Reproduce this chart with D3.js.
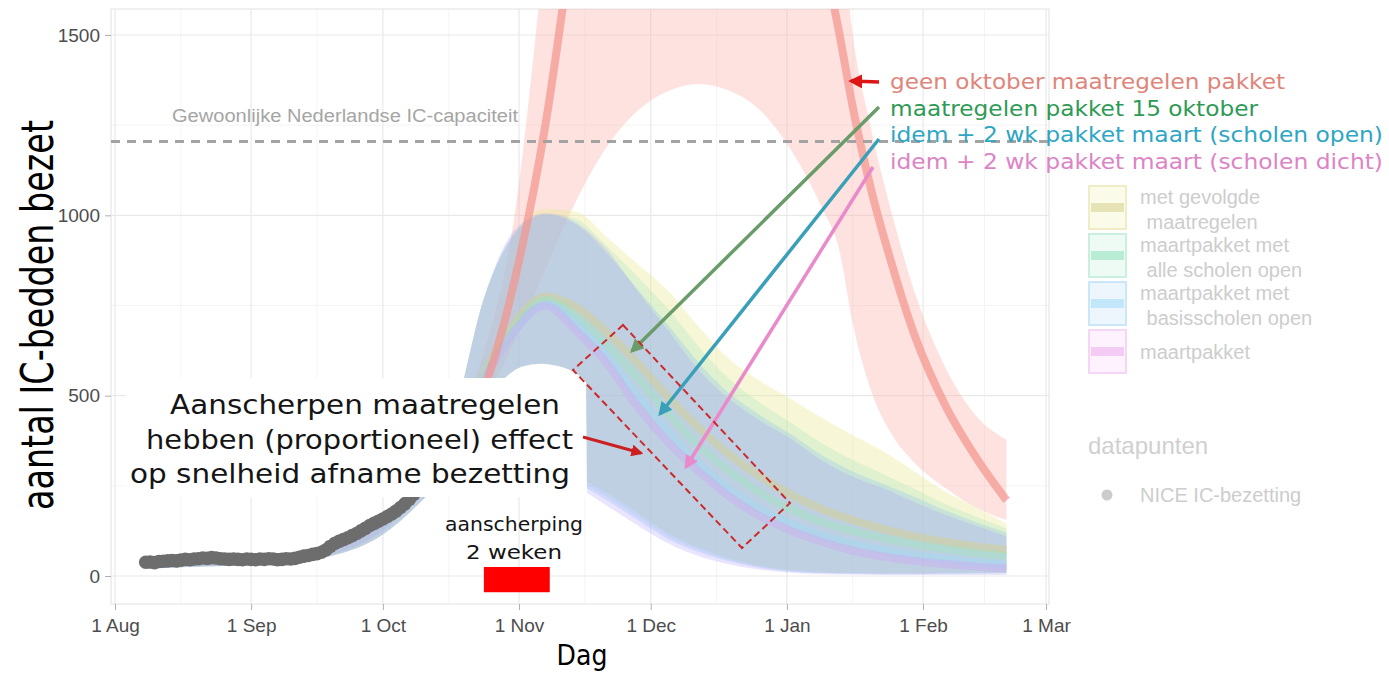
<!DOCTYPE html>
<html><head><meta charset="utf-8">
<script src="https://cdn.jsdelivr.net/npm/d3@7"></script>
<style>html,body{margin:0;padding:0;background:#fff;} svg{display:block}</style>
</head><body><svg id="c" width="1389" height="673"></svg>
<script>
// ---------------- DATA ----------------
const xTickDates = ["2020-08-01","2020-09-01","2020-10-01","2020-11-01","2020-12-01","2021-01-01","2021-02-01","2021-03-01"];
const xTickLabels = ["1 Aug","1 Sep","1 Oct","1 Nov","1 Dec","1 Jan","1 Feb","1 Mar"];
const xMinorDates = ["2020-08-16","2020-09-16","2020-10-16","2020-11-16","2020-12-16","2021-01-16","2021-02-15"];
const yTicks = [0, 500, 1000, 1500];
const yMinor = [250, 750, 1250];

// NICE observed IC occupancy, daily from 8 Aug 2020
const obsStart = "2020-08-08";
const obsValues = [38,39,37,40,41,42,43,42,44,46,45,47,48,50,49,51,50,48,47,46,47,46,45,47,
  46,45,47,46,48,47,45,46,48,47,49,52,55,57,60,62,66,72,82,90,96,101,106,112,118,125,132,140,146,152,
  158,165,172,180,190,200,212,226,240,255,270,285,300,318,336,355,375,395,415,438];

// scenario model dates
const modelDates = ["2020-08-08","2020-08-22","2020-09-05","2020-09-19","2020-10-01","2020-10-10","2020-10-17","2020-10-24","2020-10-31","2020-11-07","2020-11-14","2020-11-21","2020-11-28","2020-12-05","2020-12-12","2020-12-19","2020-12-26","2021-01-02","2021-01-09","2021-01-16","2021-01-23","2021-01-30","2021-02-06","2021-02-13","2021-02-20"];

// A: met gevolgde maatregelen (yellow)
const aMed = [32,38,44,70,140,250,370,560,700,775,745,675,590,495,410,335,275,225,185,155,130,110,95,82,72];
const aHi  = [40,46,53,85,165,290,440,770,950,1018,1010,940,865,790,690,600,540,490,438,390,345,290,235,190,145];
const aLo  = [25,30,35,55,115,210,300,360,370,340,280,230,175,118,78,48,28,16,10,8,7,7,8,9,10];
// B: maartpakket met alle scholen open (green)
const bMed = [32,38,44,70,140,250,370,555,690,765,720,640,550,450,360,290,230,185,150,125,105,88,75,64,55];
const bHi  = [40,46,53,85,165,290,440,770,950,1005,990,915,830,740,635,545,480,425,368,322,282,242,200,165,132];
const bLo  = [25,30,35,55,115,210,300,355,360,330,270,220,165,110,72,44,25,14,9,7,6,6,7,8,9];
// C: maartpakket met basisscholen open (blue)
const cMed = [32,38,44,70,140,250,370,550,680,755,700,610,500,400,310,240,185,145,112,90,72,58,47,38,31];
const cHi  = [40,46,53,85,165,290,440,770,950,1002,975,895,795,695,590,505,445,392,335,290,255,220,182,150,120];
const cLo  = [25,30,35,55,115,210,300,350,355,320,262,210,155,102,66,40,22,12,8,6,5,5,6,7,8];
// D: maartpakket (purple)
const dMed = [32,38,44,70,140,250,370,545,680,750,680,590,470,370,290,220,165,125,95,70,54,42,33,26,21];
const dHi  = [40,46,53,85,165,290,440,770,960,1005,980,905,790,680,570,490,430,380,320,275,243,205,170,140,110];
const dLo  = [25,30,35,55,115,210,300,345,350,310,250,195,140,90,55,32,17,9,5,4,3,3,3,3,3];

// E: geen oktober maatregelen pakket (red)
const redDates = ["2020-10-10","2020-10-17","2020-10-24","2020-10-31","2020-11-07","2020-11-14","2020-11-21","2020-11-28","2020-12-05","2020-12-12","2020-12-19","2020-12-26","2021-01-02","2021-01-09","2021-01-13","2021-01-16","2021-01-20","2021-01-25","2021-01-30","2021-02-06","2021-02-13","2021-02-20"];
const eMed = [250,390,520,820,1250,1850,2500,3000,3300,3400,3300,2900,2300,1750,1500,1300,1080,860,670,475,330,210];
const eHi  = [290,430,620,1000,1750,2500,3200,3800,4200,4400,4300,3900,3300,2600,1850,1500,1250,1000,790,580,445,378];
const eLo  = [210,330,480,650,850,1040,1190,1290,1345,1364,1345,1290,1180,1020,900,700,520,390,315,245,190,155];

const capacity = 1205;
const tighteningPeriod = ["2020-10-24", "2020-11-08"];
const tighteningRange = [-45, 25];

const legendLabels = [["met gevolgde"," maatregelen"],["maartpakket met"," alle scholen open"],["maartpakket met"," basisscholen open"],["maartpakket"]];
const annotationTexts = ["geen oktober maatregelen pakket","maatregelen pakket 15 oktober","idem + 2 wk pakket maart (scholen open)","idem + 2 wk pakket maart (scholen dicht)"];

// ---------------- CHART ----------------
const parse = d3.utcParse("%Y-%m-%d");
const svg = d3.select("#c");
const P = {l:111, r:1049, t:9, b:604};
const x = d3.scaleUtc().domain([parse("2020-08-01"), parse("2021-03-01")]).range([115, 1046]);
const y = d3.scaleLinear().domain([0, 1500]).range([576, 35]);

svg.append("defs").append("clipPath").attr("id","panel")
  .append("rect").attr("x",P.l).attr("y",P.t).attr("width",P.r-P.l).attr("height",P.b-P.t);

// grid
const grid = svg.append("g");
grid.selectAll(".ym").data(yMinor).join("line").attr("x1",P.l).attr("x2",P.r)
  .attr("y1",d=>y(d)).attr("y2",d=>y(d)).attr("stroke","#f4f4f4").attr("stroke-width",1);
grid.selectAll(".xm").data(xMinorDates).join("line").attr("y1",P.t).attr("y2",P.b)
  .attr("x1",d=>x(parse(d))).attr("x2",d=>x(parse(d))).attr("stroke","#f4f4f4").attr("stroke-width",1);
grid.selectAll(".yM").data(yTicks).join("line").attr("x1",P.l).attr("x2",P.r)
  .attr("y1",d=>y(d)).attr("y2",d=>y(d)).attr("stroke","#e9e9e9").attr("stroke-width",1.2);
grid.selectAll(".xM").data(xTickDates).join("line").attr("y1",P.t).attr("y2",P.b)
  .attr("x1",d=>x(parse(d))).attr("x2",d=>x(parse(d))).attr("stroke","#e9e9e9").attr("stroke-width",1.2);
svg.append("rect").attr("x",P.l).attr("y",P.t).attr("width",P.r-P.l).attr("height",P.b-P.t)
  .attr("fill","none").attr("stroke","#e2e2e2").attr("stroke-width",1);

const plot = svg.append("g").attr("clip-path","url(#panel)");
const curve = d3.curveMonotoneX;

function bandData(dates, lo, hi){ return dates.map((d,i)=>({d:parse(d), lo:lo[i], hi:hi[i]})); }
function lineData(dates, v){ return dates.map((d,i)=>({d:parse(d), v:v[i]})); }
const area = d3.area().curve(curve).x(p=>x(p.d)).y0(p=>y(p.lo)).y1(p=>y(p.hi));
const line = d3.line().curve(curve).x(p=>x(p.d)).y(p=>y(p.v));

const scen = [
  {med:aMed, lo:aLo, hi:aHi, fill:"#ecec9c", fo:0.4, stroke:"#cfcf94", so:0.55},
  {med:bMed, lo:bLo, hi:bHi, fill:"#86dcae", fo:0.2, stroke:"#9fe2c0", so:0.5},
  {med:cMed, lo:cLo, hi:cHi, fill:"#80b8f4", fo:0.26, stroke:"#a0d8f2", so:0.5},
  {med:dMed, lo:dLo, hi:dHi, fill:"#b0a0ff", fo:0.28, stroke:"#c8b0f0", so:0.5}
];
// red band
plot.append("path").datum(bandData(redDates, eLo, eHi)).attr("d", area)
  .attr("fill","#f9b2aa").attr("fill-opacity",0.38);
scen.forEach(s=>{
  plot.append("path").datum(bandData(modelDates, s.lo, s.hi)).attr("d", area)
    .attr("fill", s.fill).attr("fill-opacity", s.fo);
});
scen.forEach(s=>{
  plot.append("path").datum(lineData(modelDates, s.med)).attr("d", line)
    .attr("fill","none").attr("stroke", s.stroke).attr("stroke-opacity", s.so).attr("stroke-width",8);
});
plot.append("path").datum(lineData(redDates, eMed)).attr("d", line)
  .attr("fill","none").attr("stroke","#f4948b").attr("stroke-opacity",0.7).attr("stroke-width",8);

// observed points
const obs = obsValues.map((v,i)=>({d:d3.utcDay.offset(parse(obsStart), i), v}));
plot.selectAll(".obs").data(obs).join("circle").attr("cx",p=>x(p.d)).attr("cy",p=>y(p.v))
  .attr("r",6.8).attr("fill","#6d6d6d");

// capacity line
plot.append("line").attr("x1",P.l).attr("x2",P.r).attr("y1",y(capacity)).attr("y2",y(capacity))
  .attr("stroke","#a3a3a3").attr("stroke-width",3).attr("stroke-dasharray","9,7");
svg.append("text").attr("x",172).attr("y",y(capacity)-19).text("Gewoonlijke Nederlandse IC-capaciteit")
  .attr("font-family","Liberation Sans, Arial, sans-serif").attr("font-size",18).attr("fill","#a5a5a5")
  .attr("textLength",346).attr("lengthAdjust","spacingAndGlyphs");

// tightening rect
svg.append("rect").attr("x",x(parse(tighteningPeriod[0]))).attr("width",x(parse(tighteningPeriod[1]))-x(parse(tighteningPeriod[0])))
  .attr("y",y(tighteningRange[1])).attr("height",y(tighteningRange[0])-y(tighteningRange[1])).attr("fill","#ff0000");

// axes
const xa = svg.append("g").attr("transform",`translate(0,${P.b})`)
  .call(d3.axisBottom(x).tickValues(xTickDates.map(parse)).tickFormat((d,i)=>xTickLabels[i]).tickSize(6).tickSizeOuter(0).tickPadding(9));
xa.select(".domain").remove();
xa.selectAll("line").attr("stroke","#b0b0b0");
xa.selectAll("text").attr("font-family","Liberation Sans, Arial, sans-serif").attr("font-size",19).attr("fill","#4d4d4d");
const ya = svg.append("g").attr("transform",`translate(${P.l},0)`)
  .call(d3.axisLeft(y).tickValues(yTicks).tickFormat(d3.format("d")).tickSize(6).tickSizeOuter(0).tickPadding(5));
ya.select(".domain").remove();
ya.selectAll("line").attr("stroke","#b0b0b0");
ya.selectAll("text").attr("font-family","Liberation Sans, Arial, sans-serif").attr("font-size",19).attr("fill","#4d4d4d");

svg.append("text").attr("transform","translate(53,315) rotate(-90)").attr("text-anchor","middle")
  .text("aantal IC-bedden bezet").attr("font-family","Liberation Sans Narrow, DejaVu Sans Condensed, sans-serif")
  .attr("font-size",44).attr("fill","#000").attr("textLength",390).attr("lengthAdjust","spacingAndGlyphs");
svg.append("text").attr("x",582).attr("y",665).attr("text-anchor","middle").text("Dag")
  .attr("font-family","Liberation Sans Narrow, DejaVu Sans Condensed, sans-serif").attr("font-size",28).attr("fill","#000");

// legend
const lg = svg.append("g");
const keyStyle = [
  {bg:"#fbfbea", border:"#efecc6", line:"#e6e3b6"},
  {bg:"#eefaf4", border:"#c9f0df", line:"#b9ecd5"},
  {bg:"#eef6fd", border:"#c9e7f8", line:"#c2e6fa"},
  {bg:"#fdf2fd", border:"#f5d6f5", line:"#f4cbf4"}
];
legendLabels.forEach((lab,i)=>{
  const ky = 186 + i*48;
  lg.append("rect").attr("x",1089).attr("y",ky).attr("width",37).attr("height",43)
    .attr("fill",keyStyle[i].bg).attr("stroke",keyStyle[i].border).attr("stroke-width",2);
  lg.append("line").attr("x1",1091).attr("x2",1124).attr("y1",ky+21.5).attr("y2",ky+21.5)
    .attr("stroke",keyStyle[i].line).attr("stroke-width",9);
  const base = lab.length===2 ? ky+18 : ky+29;
  lab.forEach((t,j)=>{
    lg.append("text").attr("x", j===0?1140:1141).attr("y", base + j*24.5).text(t)
      .attr("xml:space","preserve").style("white-space","pre")
      .attr("font-family","Liberation Sans, Arial, sans-serif").attr("font-size",20).attr("fill","#cdcdcd");
  });
});
lg.append("text").attr("x",1088).attr("y",454).text("datapunten")
  .attr("font-family","Liberation Sans, Arial, sans-serif").attr("font-size",24).attr("fill","#d0d0d0");
lg.append("circle").attr("cx",1107).attr("cy",495).attr("r",5.5).attr("fill","#cccccc");
lg.append("text").attr("x",1140).attr("y",502).text("NICE IC-bezetting")
  .attr("font-family","Liberation Sans, Arial, sans-serif").attr("font-size",20).attr("fill","#cdcdcd");

// annotations
const defs = svg.select("defs");
function marker(id, color){
  defs.append("marker").attr("id",id).attr("viewBox","0 0 10 10").attr("refX",8).attr("refY",5)
    .attr("markerWidth",4).attr("markerHeight",4).attr("orient","auto-start-reverse")
    .append("path").attr("d","M0,0 L10,5 L0,10 z").attr("fill",color);
}
marker("mr","#dd1515"); marker("mg","#6a9c6a"); marker("mb","#3a9fb8"); marker("mp","#e98bcb"); marker("md","#cc2020");

const ann = svg.append("g");
const annColors = ["#e0857b","#2f9a55","#2ea6c4","#dc84c6"];
const annLens = [395, 368, 493, 493];
annotationTexts.forEach((t,i)=>{
  ann.append("text").attr("x",890).attr("y",89 + i*26.7).text(t)
    .attr("font-family","DejaVu Sans, Verdana, sans-serif").attr("font-size",21).attr("fill",annColors[i])
    .attr("textLength",annLens[i]).attr("lengthAdjust","spacingAndGlyphs");
});
ann.append("line").attr("x1",879).attr("y1",82).attr("x2",851).attr("y2",81)
  .attr("stroke","#dd1515").attr("stroke-width",3.5).attr("marker-end","url(#mr)");
ann.append("line").attr("x1",879).attr("y1",107).attr("x2",632).attr("y2",351)
  .attr("stroke","#6a9c6a").attr("stroke-width",3.5).attr("marker-end","url(#mg)");
ann.append("line").attr("x1",879).attr("y1",139).attr("x2",660).attr("y2",414)
  .attr("stroke","#3a9fb8").attr("stroke-width",3.5).attr("marker-end","url(#mb)");
ann.append("line").attr("x1",873).attr("y1",167).attr("x2",686).attr("y2",467)
  .attr("stroke","#e98bcb").attr("stroke-width",3.5).attr("marker-end","url(#mp)");

// white text box
ann.append("path").attr("d","M126,378 L505,378 Q520,362 546,364 Q574,367 586,382 L587,497 L126,497 Z").attr("fill","#fff");
const boxLines = [["Aanscherpen maatregelen",170,414,390],["hebben (proportioneel) effect",146,449,427],["op snelheid afname bezetting",130,483,440]];
boxLines.forEach(b=>{
  ann.append("text").attr("x",b[1]).attr("y",b[2]).text(b[0])
    .attr("font-family","DejaVu Sans, Verdana, sans-serif").attr("font-size",27).attr("fill","#151515")
    .attr("textLength",b[3]).attr("lengthAdjust","spacingAndGlyphs");
});
ann.append("line").attr("x1",583).attr("y1",437).attr("x2",641).attr("y2",453)
  .attr("stroke","#cc2020").attr("stroke-width",3).attr("marker-end","url(#md)");
ann.append("polygon").attr("points","623,325 790,503 742,548 573,370").attr("fill","none")
  .attr("stroke","#cc2a2a").attr("stroke-width",2).attr("stroke-dasharray","7,4");

ann.append("text").attr("x",514).attr("y",531).attr("text-anchor","middle").text("aanscherping")
  .attr("font-family","DejaVu Sans, Verdana, sans-serif").attr("font-size",20).attr("fill","#151515")
  .attr("textLength",138).attr("lengthAdjust","spacingAndGlyphs");
ann.append("text").attr("x",514).attr("y",559).attr("text-anchor","middle").text("2 weken")
  .attr("font-family","DejaVu Sans, Verdana, sans-serif").attr("font-size",20).attr("fill","#151515")
  .attr("textLength",96).attr("lengthAdjust","spacingAndGlyphs");
</script></body></html>
